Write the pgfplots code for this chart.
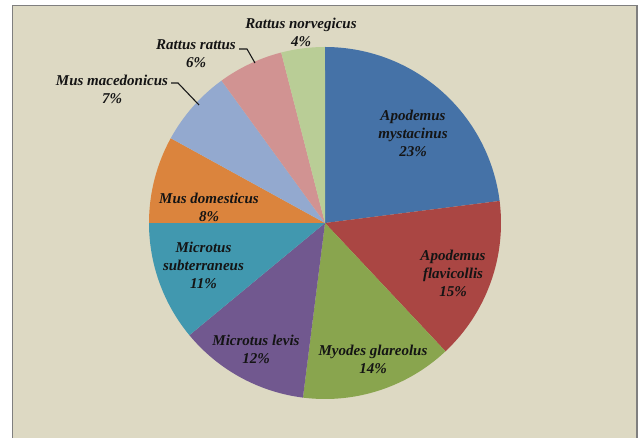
\documentclass[border=0pt]{standalone}
\usepackage{pgfplots}
\pgfplotsset{compat=1.18}
\usepackage{fontspec}
\setmainfont{Liberation Serif}
\definecolor{c1}{HTML}{4572A7}
\definecolor{c2}{HTML}{AA4643}
\definecolor{c3}{HTML}{89A54E}
\definecolor{c4}{HTML}{71588F}
\definecolor{c5}{HTML}{4198AF}
\definecolor{c6}{HTML}{DB843D}
\definecolor{c7}{HTML}{93A9CF}
\definecolor{c8}{HTML}{D19392}
\definecolor{c9}{HTML}{B9CD96}
\definecolor{bg}{HTML}{DDD9C3}
\definecolor{frame}{HTML}{7F7F7F}
\tikzset{lbl/.style={font=\fontsize{15}{18}\selectfont\bfseries\itshape, align=center, inner sep=0pt, text=black!92}}
% #1 = cumulative share before the slice (%), #2 = share of the slice (%), #3 = colour
\newcommand{\slice}[3]{%
  \addplot[draw=none, fill=#3, mark=none, domain=0:1, samples=80]
    ({325+176*cos(90-3.6*(#1+#2*x))},{215+176*sin(90-3.6*(#1+#2*x))})
    -- (axis cs:325,215) -- cycle;}
\begin{document}
\begin{tikzpicture}
\begin{axis}[width=643pt, height=438pt, scale only axis,
  xmin=0, xmax=643, ymin=0, ymax=438, hide axis, clip=false]
\fill[white] (axis cs:0,0) rectangle (axis cs:643,438);
\fill[bg] (axis cs:12.5,0) rectangle (axis cs:637,432.5);
\draw[frame, line width=1.2pt] (axis cs:12.5,0) -- (axis cs:12.5,432.5) -- (axis cs:637,432.5) -- (axis cs:637,0);
% values: 23, 15, 14, 12, 11, 8, 7, 6, 4
\slice{0}{23}{c1}
\slice{23}{15}{c2}
\slice{38}{14}{c3}
\slice{52}{12}{c4}
\slice{64}{11}{c5}
\slice{75}{8}{c6}
\slice{83}{7}{c7}
\slice{90}{6}{c8}
\slice{96}{4}{c9}
\node[lbl] at (axis cs:413,305) {Apodemus\\mystacinus\\23\%};
\node[lbl] at (axis cs:453,165) {Apodemus\\flavicollis\\15\%};
\node[lbl] at (axis cs:373,79) {Myodes glareolus\\14\%};
\node[lbl] at (axis cs:256,88.5) {Microtus levis\\12\%};
\node[lbl] at (axis cs:203.5,173) {Microtus\\subterraneus\\11\%};
\node[lbl] at (axis cs:209,231) {Mus domesticus\\8\%};
\node[lbl] at (axis cs:112,349) {Mus macedonicus\\7\%};
\node[lbl] at (axis cs:196,384) {Rattus rattus\\6\%};
\node[lbl] at (axis cs:301,405.5) {Rattus norvegicus\\4\%};
\draw[black!90, line width=1.1pt] (axis cs:171,355) -- (axis cs:178,355) -- (axis cs:199,333);
\draw[black!90, line width=1.1pt] (axis cs:239,389) -- (axis cs:247,389) -- (axis cs:255,375);
\end{axis}
\end{tikzpicture}
\end{document}
